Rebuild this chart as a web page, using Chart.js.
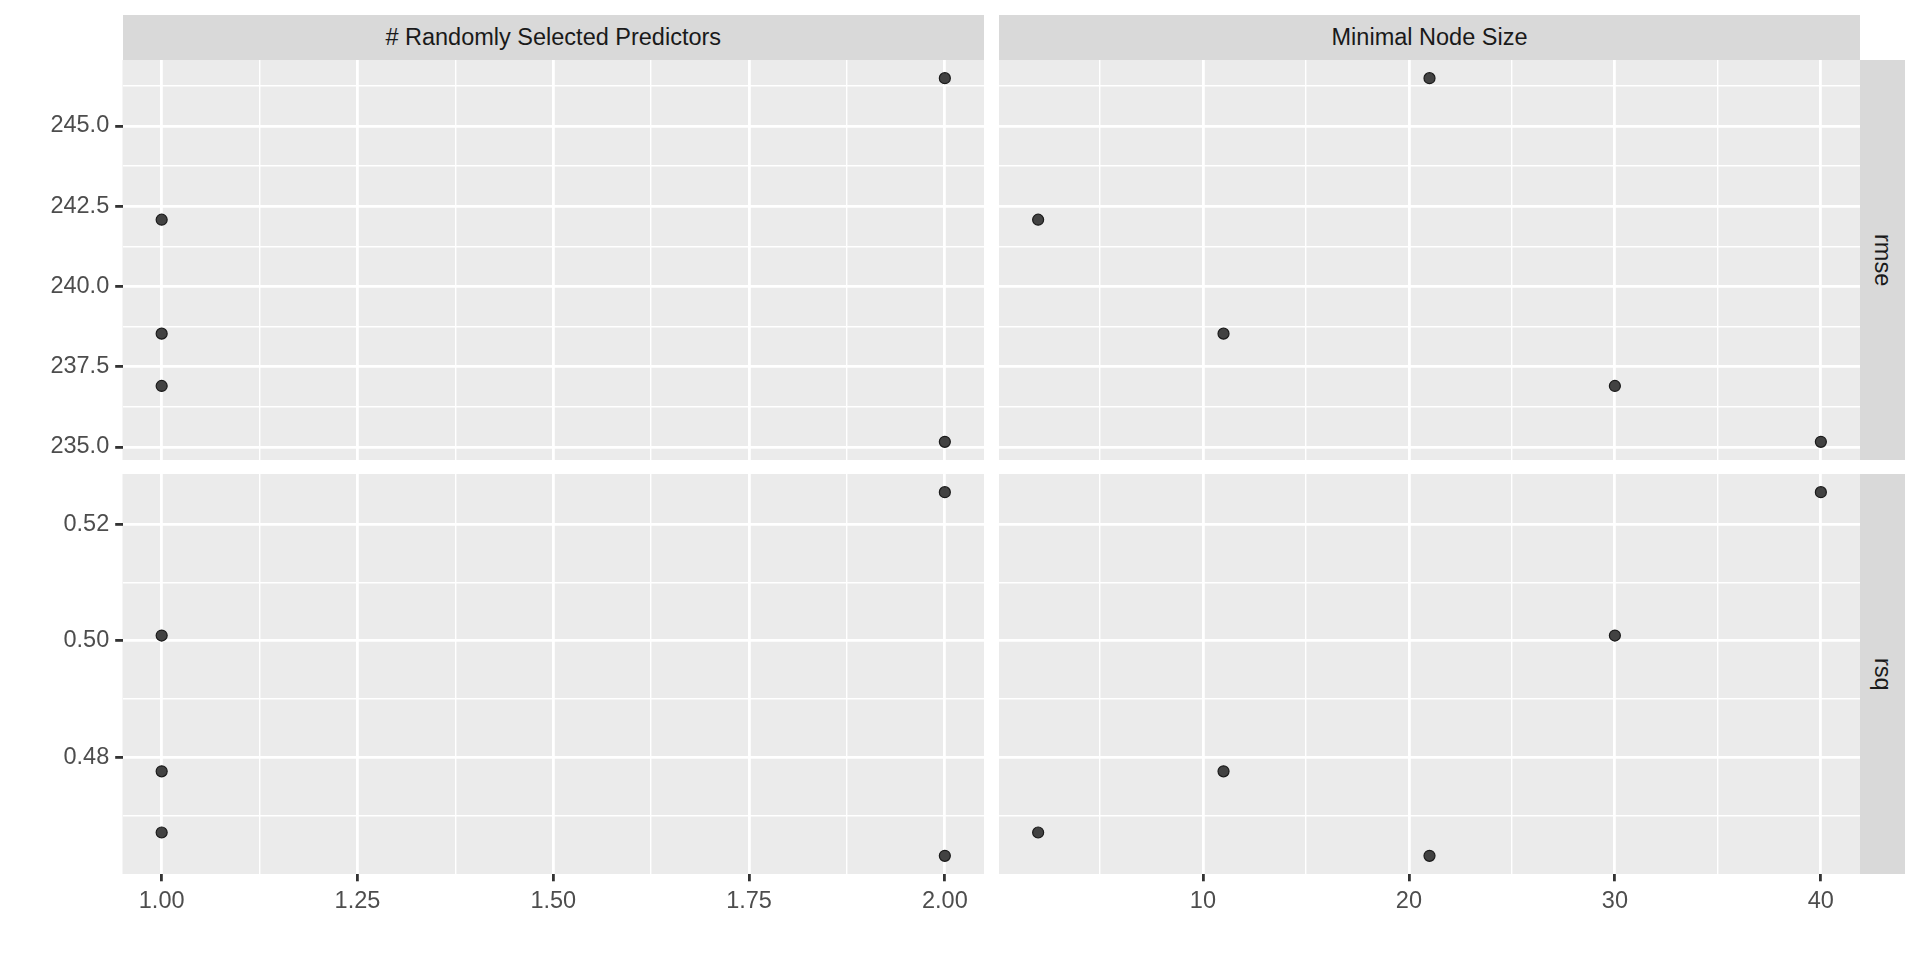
<!DOCTYPE html>
<html>
<head>
<meta charset="utf-8">
<script src="https://cdn.jsdelivr.net/npm/chart.js@4.4.0/dist/chart.umd.min.js"></script>
<style>
  html, body { margin: 0; padding: 0; background: #fff; }
  body { width: 1920px; height: 960px; position: relative; overflow: hidden; font-family: "Liberation Sans", Arial, sans-serif; }
  canvas { position: absolute; }
  .strip { position: absolute; background: #D9D9D9; color: #1A1A1A; font-size: 23.5px; display: flex; align-items: center; justify-content: center; }
  .strip.side span { writing-mode: vertical-rl; }
</style>
</head>
<body>
<div class="strip" id="colStrip0" style="left:122.5px;top:15px;width:861.5px;height:45px"><span></span></div>
<div class="strip" id="colStrip1" style="left:999px;top:15px;width:861px;height:45px"><span></span></div>
<div class="strip side" id="rowStrip0" style="left:1860px;top:60px;width:45px;height:400px"><span></span></div>
<div class="strip side" id="rowStrip1" style="left:1860px;top:474px;width:45px;height:400px"><span></span></div>

<canvas id="tl" width="984" height="400" style="left:0;top:60px"></canvas>
<canvas id="tr" width="861" height="400" style="left:999px;top:60px"></canvas>
<canvas id="bl" width="984" height="486" style="left:0;top:474px"></canvas>
<canvas id="br" width="861" height="486" style="left:999px;top:474px"></canvas>

<script>
// tuning results: one entry per candidate model
const mtry = [1, 1, 2, 1, 2];
const minN = [2, 11, 21, 30, 40];
const rmse = [242.08, 238.53, 246.49, 236.90, 235.16];
const rsq  = [0.4671, 0.4776, 0.4631, 0.5009, 0.5255];

// axis breaks
const mtryTicks = [1.00, 1.25, 1.50, 1.75, 2.00];
const mtryMinor = [1.125, 1.375, 1.625, 1.875];
const minNTicks = [10, 20, 30, 40];
const minNMinor = [5, 15, 25, 35];
const rmseTicks = [235.0, 237.5, 240.0, 242.5, 245.0];
const rmseMinor = [236.25, 238.75, 241.25, 243.75, 246.25];
const rsqTicks  = [0.48, 0.50, 0.52];
const rsqMinor  = [0.47, 0.49, 0.51];

const colTitles = ['# Randomly Selected Predictors', 'Minimal Node Size'];
const rowTitles = ['rmse', 'rsq'];

colTitles.forEach((t, i) => { document.querySelector('#colStrip' + i + ' span').textContent = t; });
rowTitles.forEach((t, i) => { document.querySelector('#rowStrip' + i + ' span').textContent = t; });

// ggplot-like 5% expansion
function expand(v) {
  var lo = Math.min.apply(null, v), hi = Math.max.apply(null, v), pad = (hi - lo) * 0.05;
  return [lo - pad, hi + pad];
}

const panelBg = {
  id: 'panelBg',
  beforeDraw(chart) {
    const a = chart.chartArea, ctx = chart.ctx;
    ctx.save();
    ctx.fillStyle = '#EBEBEB';
    ctx.fillRect(a.left, a.top, a.right - a.left, a.bottom - a.top);
    ctx.restore();
  }
};

function axis(major, minor, limits, digits, showLabels, size, horizontal) {
  return {
    type: 'linear',
    min: limits[0],
    max: limits[1],
    border: { display: false },
    afterBuildTicks: function(s) {
      s.ticks = major.map(v => ({ value: v }))
        .concat(minor.map(v => ({ value: v, isMinor: true })))
        .sort((a, b) => a.value - b.value);
    },
    afterFit: function(s) {
      if (horizontal) s.height = size; else s.width = size;
      s.paddingLeft = s.paddingRight = s.paddingTop = s.paddingBottom = 0;
    },
    grid: {
      color: '#FFFFFF',
      lineWidth: c => (c.tick && c.tick.isMinor) ? 1.4 : 2.8,
      drawTicks: showLabels,
      tickLength: 7.3,
      tickColor: c => (c.tick && c.tick.isMinor) ? 'rgba(0,0,0,0)' : '#333333',
      tickWidth: c => (c.tick && c.tick.isMinor) ? 0 : 2.8
    },
    ticks: {
      display: showLabels,
      autoSkip: false,
      maxRotation: 0,
      padding: 6,
      color: '#4D4D4D',
      font: { family: '"Liberation Sans", Arial, sans-serif', size: 23.5 },
      callback: (v, i, ticks) => ticks[i].isMinor ? '' : Number(v).toFixed(digits)
    }
  };
}

function panel(id, xs, ys, xAxis, yAxis) {
  return new Chart(document.getElementById(id).getContext('2d'), {
    type: 'scatter',
    data: {
      datasets: [{
        data: xs.map((x, i) => ({ x: x, y: ys[i] })),
        pointRadius: 5.5,
        pointBackgroundColor: '#424242',
        pointBorderColor: '#1A1A1A',
        pointBorderWidth: 1.2,
        clip: false
      }]
    },
    options: {
      responsive: false,
      animation: false,
      events: [],
      layout: { padding: 0, autoPadding: false },
      plugins: { legend: { display: false }, tooltip: { enabled: false } },
      scales: { x: xAxis, y: yAxis }
    },
    plugins: [panelBg]
  });
}

const mtryLim = expand(mtry), minNLim = expand(minN);
const rmseLim = expand(rmse), rsqLim = expand(rsq);

panel('tl', mtry, rmse,
  axis(mtryTicks, mtryMinor, mtryLim, 2, false, 0, true),
  axis(rmseTicks, rmseMinor, rmseLim, 1, true, 122.5, false));
panel('tr', minN, rmse,
  axis(minNTicks, minNMinor, minNLim, 0, false, 0, true),
  axis(rmseTicks, rmseMinor, rmseLim, 1, false, 0, false));
panel('bl', mtry, rsq,
  axis(mtryTicks, mtryMinor, mtryLim, 2, true, 86, true),
  axis(rsqTicks, rsqMinor, rsqLim, 2, true, 122.5, false));
panel('br', minN, rsq,
  axis(minNTicks, minNMinor, minNLim, 0, true, 86, true),
  axis(rsqTicks, rsqMinor, rsqLim, 2, false, 0, false));
</script>
</body>
</html>
